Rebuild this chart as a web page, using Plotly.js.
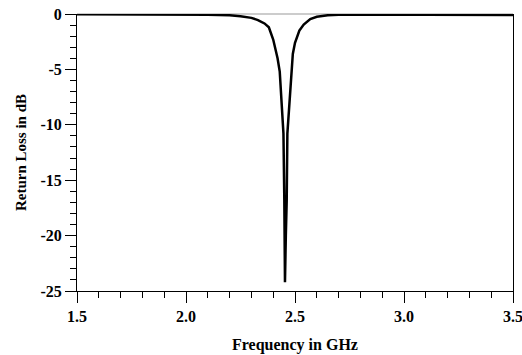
<!DOCTYPE html>
<html>
<head>
<meta charset="utf-8">
<script src="https://cdn.plot.ly/plotly-3.0.1.min.js"></script>
<style>html,body{margin:0;padding:0;background:#fff;}#chart{width:522px;height:355px;}</style>
</head>
<body>
<div id="chart"></div>
<script>
// Frequency (GHz)
var freqGHz = [1.50, 1.60, 1.70, 1.80, 1.90, 2.00, 2.10, 2.20, 2.25, 2.30, 2.33, 2.36, 2.38, 2.40, 2.41, 2.42, 2.43, 2.44, 2.447, 2.451, 2.454, 2.458, 2.462, 2.465, 2.474, 2.48, 2.485, 2.49, 2.50, 2.52, 2.54, 2.57, 2.60, 2.65, 2.70, 2.80, 2.90, 3.00, 3.10, 3.20, 3.30, 3.40, 3.50];
// Return loss (dB)
var returnLossDB = [-0.02, -0.02, -0.02, -0.03, -0.03, -0.04, -0.06, -0.12, -0.2, -0.35, -0.55, -0.85, -1.2, -2.3, -3.1, -4.0, -5.2, -8.0, -10.8, -16.8, -24.2, -20.0, -16.8, -10.8, -7.8, -6.0, -4.8, -3.6, -2.6, -1.5, -0.95, -0.45, -0.25, -0.12, -0.07, -0.05, -0.05, -0.06, -0.07, -0.08, -0.09, -0.1, -0.1];

var xTickVals = [1.5, 2.0, 2.5, 3.0, 3.5];
var xTickText = ["1.5", "2.0", "2.5", "3.0", "3.5"];
var yTickVals = [0, -5, -10, -15, -20, -25];
var yTickText = ["0", "-5", "-10", "-15", "-20", "-25"];

var fontFam = "Liberation Serif, Times New Roman, serif";

var trace = {
  x: freqGHz,
  y: returnLossDB,
  type: "scatter",
  mode: "lines",
  line: {color: "#000", width: 2.5, shape: "linear"},
  hoverinfo: "skip"
};

var layout = {
  width: 522,
  height: 355,
  margin: {l: 77, r: 9, t: 14, b: 64},
  paper_bgcolor: "#fff",
  plot_bgcolor: "#fff",
  showlegend: false,
  font: {family: fontFam, color: "#000"},
  xaxis: {
    range: [1.5, 3.5],
    tickmode: "array",
    tickvals: xTickVals,
    ticktext: xTickText,
    ticklabeloverflow: "allow",
    ticks: "outside",
    ticklen: 11,
    tickwidth: 1,
    tickcolor: "#000",
    minor: {dtick: 0.1, ticks: "outside", ticklen: 6, tickwidth: 1, tickcolor: "#000", showgrid: false},
    showline: true,
    linecolor: "#000",
    linewidth: 1,
    mirror: false,
    showgrid: false,
    zeroline: false,
    tickfont: {family: fontFam, size: 16, color: "#000", weight: "bold"},
    title: {text: "<b>Frequency in GHz</b>", font: {family: fontFam, size: 16, color: "#000"}, standoff: 14}
  },
  yaxis: {
    range: [-25, 0],
    tickmode: "array",
    tickvals: yTickVals,
    ticktext: yTickText,
    ticks: "outside",
    ticklen: 11,
    tickwidth: 1,
    tickcolor: "#000",
    minor: {dtick: 1, ticks: "outside", ticklen: 6, tickwidth: 1, tickcolor: "#000", showgrid: false},
    showline: true,
    linecolor: "#000",
    linewidth: 1,
    mirror: true,
    showgrid: false,
    zeroline: false,
    tickfont: {family: fontFam, size: 16, color: "#000", weight: "bold"},
    title: {text: "<b>Return Loss in dB</b>", font: {family: fontFam, size: 15, color: "#000"}, standoff: 10}
  },
  shapes: [
    {type: "line", xref: "paper", yref: "paper", x0: 0, x1: 1, y0: 1, y1: 1, line: {color: "#999", width: 1}, layer: "below"}
  ]
};

Plotly.newPlot("chart", [trace], layout, {displayModeBar: false, staticPlot: true});
</script>
</body>
</html>
